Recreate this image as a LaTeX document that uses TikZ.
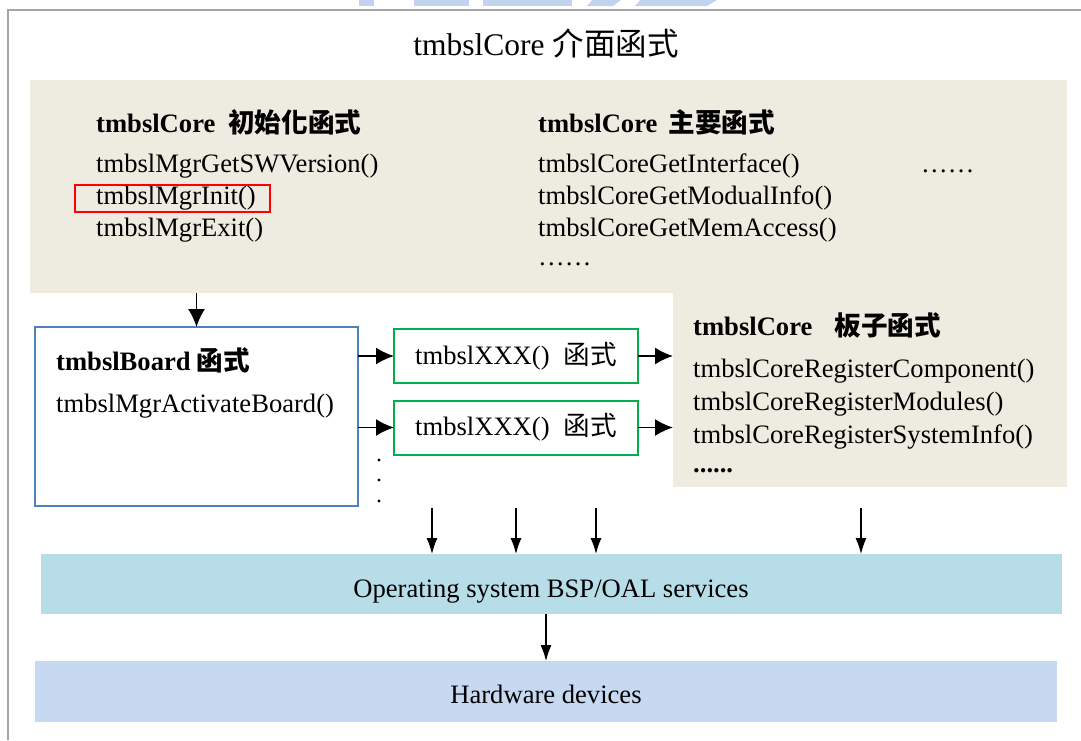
\documentclass[tikz,border=0pt]{standalone}
\usepackage{fontspec}
\setmainfont{Liberation Serif}
\newfontfamily\cjk{Noto Sans CJK TC}
\usetikzlibrary{arrows.meta}

\definecolor{framegray}{HTML}{A6A6A6}
\definecolor{beige}{HTML}{EEECE1}
\definecolor{boardblue}{HTML}{4F81BD}
\definecolor{fgreen}{HTML}{00B050}
\definecolor{osblue}{HTML}{B7DDE8}
\definecolor{hwblue}{HTML}{C6D9F1}
\definecolor{logoblue}{HTML}{C3D2EE}

\begin{document}
\begin{tikzpicture}[x=1pt,y=-1pt,
  region/.style={inner sep=0pt, outer sep=0pt},
  bodyfont/.style={font=\fontsize{26.6}{30}\selectfont},
  txt/.style={inner sep=0pt, anchor=base west, bodyfont},
  hdr/.style={txt, font=\fontsize{26.6}{30}\selectfont\bfseries},
  ctxt/.style={inner sep=0pt, anchor=base, bodyfont},
  harr/.style={-{Latex[length=18pt,width=17pt]}, line width=1.8pt},
  varr/.style={-{Latex[length=16pt,width=11pt]}, line width=1.2pt},
  greenbox/.style={region, draw=fgreen, line width=2pt, minimum width=244pt, minimum height=54pt, bodyfont},
]
\useasboundingbox (0,0) rectangle (1081,740);

% outer panel edge and the logo strip above it
\begin{scope}[fill=logoblue]
\fill (359,0) rectangle (374,6);
\fill (414,0) rectangle (469,6);
\fill (483,0) rectangle (572,6);
\fill (592,0) -- (621,0) -- (613,6) -- (587,6) -- cycle;
\fill (640,0) -- (717,0) -- (707,6) -- (635,6) -- cycle;
\end{scope}
\draw[framegray, line width=2pt] (8,740) -- (8,10) -- (1081,10);

% title
\node[ctxt, font=\fontsize{31.5}{36}\selectfont] (title) at (546,55) {tmbslCore {\cjk 介面函式}};

% core function areas (beige L-shape)
\node[region, fill=beige, minimum width=1037pt, minimum height=213pt] (core) at (548.5,186.5) {};
\node[region, fill=beige, minimum width=394pt, minimum height=194pt] (boardcore) at (870,390) {};

% init functions
\node[hdr] (inith) at (96,132) {tmbslCore\hspace{13pt}{\cjk\bfseries 初始化函式}};
\node[txt] (init1) at (96,172) {tmbslMgrGetSWVersion()};
\node[txt] (init2) at (96,204) {tmbslMgrInit()};
\node[txt] (init3) at (96,236) {tmbslMgrExit()};
\node[region, draw=red, line width=2.5pt, minimum width=195pt, minimum height=27pt] (initmark) at (172.5,198.5) {};

% main functions
\node[hdr] (mainh) at (538,132) {tmbslCore\hspace{11pt}{\cjk\bfseries 主要函式}};
\node[txt] (main1) at (538,172) {tmbslCoreGetInterface()};
\node[txt] (main2) at (538,204) {tmbslCoreGetModualInfo()};
\node[txt] (main3) at (538,236) {tmbslCoreGetMemAccess()};
\node[txt] (main4) at (538,265) {……};
\node[txt] (mainmore) at (921,172) {……};

% board functions in the core
\node[hdr] (bch) at (693,335) {tmbslCore\hspace{22pt}{\cjk\bfseries 板子函式}};
\node[txt] (bc1) at (693,377) {tmbslCoreRegisterComponent()};
\node[txt] (bc2) at (693,410) {tmbslCoreRegisterModules()};
\node[txt] (bc3) at (693,443) {tmbslCoreRegisterSystemInfo()};
\node[hdr] (bc4) at (693,472) {......};

% board box
\node[region, draw=boardblue, line width=1.6pt, minimum width=323pt, minimum height=179pt] (board) at (196.5,416.5) {};
\node[hdr] (boardh) at (56,370) {tmbslBoard\hspace{6pt}{\cjk\bfseries 函式}};
\node[txt] (board1) at (56,412) {tmbslMgrActivateBoard()};

% XXX function boxes
\node[greenbox] (g1) at (516,356) {tmbslXXX()\hspace{14pt}{\cjk 函式}};
\node[greenbox] (g2) at (516,427.5) {tmbslXXX()\hspace{14pt}{\cjk 函式}};
\foreach \yy in {460,480,501} \fill (379,\yy) circle (1.6pt);

% lower layers
\node[region, fill=osblue, minimum width=1021pt, minimum height=60pt] (os) at (551.5,584) {};
\node[ctxt] (oslabel) at (551,597) {Operating system BSP/OAL services};
\node[region, fill=hwblue, minimum width=1022pt, minimum height=61pt] (hw) at (546,691.5) {};
\node[ctxt] (hwlabel) at (546,703) {Hardware devices};

% connectors
\draw[harr] (board.north |- core.south) -- (board.north);
\draw[harr] (board.east |- g1.west) -- (g1.west);
\draw[harr] (board.east |- g2.west) -- (g2.west);
\draw[harr] (g1.east) -- (g1.east -| boardcore.west);
\draw[harr] (g2.east) -- (g2.east -| boardcore.west);

\coordinate (s1) at (432,508);
\coordinate (s2) at (516,508);
\coordinate (s3) at (596,508);
\coordinate (s4) at (861,508);
\foreach \s in {s1,s2,s3,s4} \draw[varr] (\s) -- (\s |- os.north);
\draw[varr] (os.south -| hw.north) -- (hw.north);
\end{tikzpicture}
\end{document}
